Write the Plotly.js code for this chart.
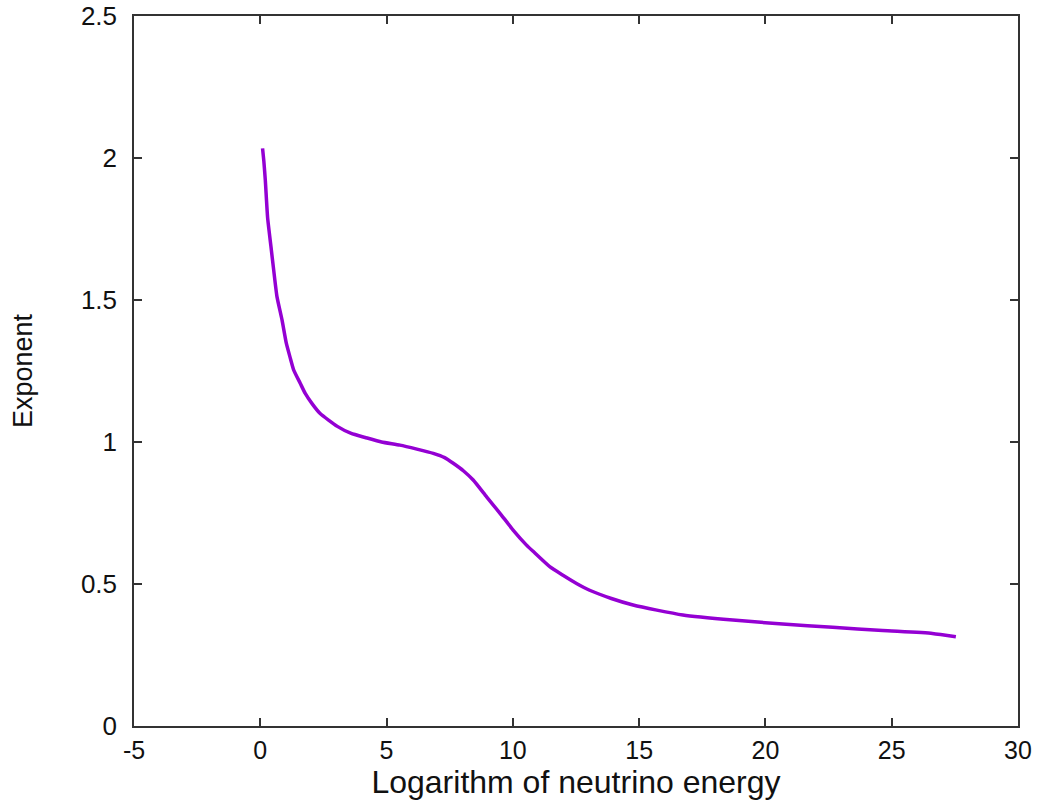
<!DOCTYPE html>
<html>
<head>
<meta charset="utf-8">
<script src="https://cdn.plot.ly/plotly-3.0.1.min.js"></script>
<style>
  html, body { margin: 0; padding: 0; background: #ffffff; }
  #chart { width: 1039px; height: 807px; }
</style>
</head>
<body>
<div id="chart"></div>
<script>
// Logarithm of neutrino energy (x) vs. exponent (y)
const logEnergy = [0.09, 0.14, 0.2, 0.29, 0.42, 0.53, 0.66, 0.86, 1.03, 1.18, 1.32, 1.58, 1.78, 2.05, 2.37,
  3.05, 3.6, 4.15, 4.8, 5.53, 6.2, 6.85, 7.3, 7.64, 8.05, 8.43, 8.96, 9.49, 10.01,
  10.54, 10.8, 11.46, 12.0, 12.52, 13.04, 13.9, 14.76, 15.7, 16.73, 18.71, 20.68,
  22.66, 24.64, 26.61, 27.54];
const exponent = [2.034, 1.99, 1.92, 1.79, 1.69, 1.606, 1.512, 1.43, 1.348, 1.298, 1.254, 1.207, 1.171, 1.135, 1.10,
  1.055, 1.03, 1.016, 1.0, 0.989, 0.975, 0.960, 0.945, 0.925, 0.898, 0.866, 0.807, 0.749, 0.69,
  0.637, 0.615, 0.561, 0.53, 0.502, 0.478, 0.449, 0.426, 0.408, 0.391, 0.373, 0.359,
  0.3475, 0.336, 0.326, 0.314];
const xTicks = [-5, 0, 5, 10, 15, 20, 25, 30];
const yTicks = [0, 0.5, 1, 1.5, 2, 2.5];
const yTickText = ["0", "0.5", "1", "1.5", "2", "2.5"];

const font = "Liberation Sans, Arial, sans-serif";

Plotly.newPlot("chart", [{
  x: logEnergy,
  y: exponent,
  type: "scatter",
  mode: "lines",
  line: { color: "#9400D3", width: 3.5, shape: "spline", smoothing: 0.5 },
  showlegend: false,
  hoverinfo: "x+y"
}], {
  width: 1039,
  height: 807,
  margin: { l: 134, r: 21, t: 16, b: 81 },
  paper_bgcolor: "#ffffff",
  plot_bgcolor: "#ffffff",
  font: { family: font, color: "#111111" },
  xaxis: {
    range: [-5, 30],
    tickvals: xTicks,
    ticktext: xTicks.map(String),
    ticks: "inside",
    ticklen: 8,
    tickwidth: 1.5,
    tickcolor: "#333333",
    showline: true,
    linecolor: "#333333",
    linewidth: 1.5,
    mirror: "ticks",
    showgrid: false,
    zeroline: false,
    tickfont: { family: font, size: 25, color: "#111111" },
    ticklabelstandoff: 1,
    title: { text: "Logarithm of neutrino energy", font: { family: font, size: 32, color: "#111111" }, standoff: 5 }
  },
  yaxis: {
    range: [0, 2.5],
    tickvals: yTicks,
    ticktext: yTickText,
    ticks: "inside",
    ticklen: 8,
    tickwidth: 1.5,
    tickcolor: "#333333",
    showline: true,
    linecolor: "#333333",
    linewidth: 1.5,
    mirror: "ticks",
    showgrid: false,
    zeroline: false,
    tickfont: { family: font, size: 26, color: "#111111" },
    ticklabelstandoff: 10,
    title: { text: "Exponent", font: { family: font, size: 27, color: "#111111" }, standoff: 40 }
  }
}, { displayModeBar: false });
</script>
</body>
</html>
